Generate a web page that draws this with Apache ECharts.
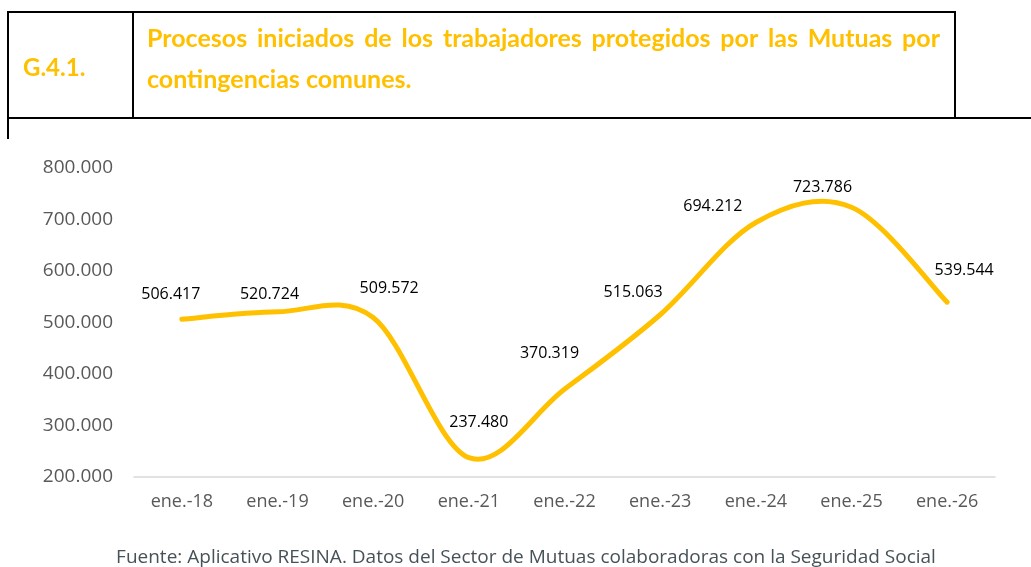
<!DOCTYPE html>
<html>
<head>
<meta charset="utf-8">
<script src="https://cdn.jsdelivr.net/npm/echarts@6/dist/echarts.min.js"></script>
<style>
html,body{margin:0;padding:0;background:#fff;}
#c{width:1031px;height:567px;}
</style>
</head>
<body>
<div id="c"></div>
<script>
const categories = ['ene.-18','ene.-19','ene.-20','ene.-21','ene.-22','ene.-23','ene.-24','ene.-25','ene.-26'];
const values = [506417, 520724, 509572, 237480, 370319, 515063, 694212, 723786, 539544];
const labelOffsets = [[-11,-25],[-8,-17],[16,-29],[10,-35],[-15,-36],[-27,-22],[-43,-16],[-29,-20],[17,-32]];
const chartCode = 'G.4.1.';
const titleLine1 = 'Procesos iniciados de los trabajadores protegidos por las Mutuas por';
const titleLine2 = 'contingencias comunes.';
const sourceText = 'Fuente: Aplicativo RESINA. Datos del Sector de Mutuas colaboradoras con la Seguridad Social';

function fmt(v){ return String(Math.round(v)).replace(/\B(?=(\d{3})+(?!\d))/g, '.'); }

const gold = '#FFC000';
const titleFont = 'bold 25px Lato';
const ctx = document.createElement('canvas').getContext('2d');
ctx.font = titleFont;
const words = titleLine1.split(' ');
const lineStart = 147, lineEnd = 940;
const widths = words.map(w => ctx.measureText(w).width);
const total = widths.reduce((a,b)=>a+b,0);
const gap = (lineEnd - lineStart - total) / (words.length - 1);
const graphics = [];
let x = lineStart;
words.forEach((w,i) => {
  graphics.push({type:'text', x:x, y:38.5, style:{text:w, font:titleFont, fill:gold, textVerticalAlign:'middle'}, z:10});
  x += widths[i] + gap;
});
graphics.push({type:'text', x:147, y:80, style:{text:titleLine2, font:titleFont, fill:gold, textVerticalAlign:'middle'}, z:10});
graphics.push({type:'text', x:23, y:68.5, style:{text:chartCode, font:'bold 24px Lato', fill:gold, textVerticalAlign:'middle'}, z:10});
const lineStyle = {stroke:'#000', lineWidth:2};
graphics.push({type:'line', shape:{x1:8,y1:12,x2:955,y2:12}, style:lineStyle});
graphics.push({type:'line', shape:{x1:8,y1:118,x2:1031,y2:118}, style:lineStyle});
graphics.push({type:'line', shape:{x1:8,y1:11,x2:8,y2:139}, style:lineStyle});
graphics.push({type:'line', shape:{x1:133,y1:12,x2:133,y2:118}, style:lineStyle});
graphics.push({type:'line', shape:{x1:955,y1:11,x2:955,y2:118}, style:lineStyle});
graphics.push({type:'text', x:526, y:557.5, style:{text:sourceText, font:'19px "Open Sans"', fill:'#465257', textAlign:'center', textVerticalAlign:'middle'}});

// Catmull-Rom style smooth curve (as in spreadsheet smoothed lines), through axis coordinates
function renderCurve(params, api){
  if (params.dataIndex !== 0) return null;
  const pts = values.map((v,i) => api.coord([i, v]));
  const n = pts.length;
  const path = [];
  for (let i = 0; i < n - 1; i++) {
    const p0 = pts[Math.max(i-1,0)], p1 = pts[i], p2 = pts[i+1], p3 = pts[Math.min(i+2,n-1)];
    const c1 = [p1[0] + (p2[0]-p0[0])/6, p1[1] + (p2[1]-p0[1])/6];
    const c2 = [p2[0] - (p3[0]-p1[0])/6, p2[1] - (p3[1]-p1[1])/6];
    if (i === 0) path.push('M' + p1[0] + ',' + p1[1]);
    path.push('C' + c1[0] + ',' + c1[1] + ' ' + c2[0] + ',' + c2[1] + ' ' + p2[0] + ',' + p2[1]);
  }
  return {
    type:'path',
    shape:{pathData: path.join(' ')},
    style:{fill:'none', stroke:gold, lineWidth:5, lineCap:'round', lineJoin:'round'}
  };
}

const chart = echarts.init(document.getElementById('c'), null, {renderer:'canvas'});
chart.setOption({
  animation:false,
  grid:{left:134, right:36, top:168, bottom:90, containLabel:false},
  xAxis:{
    type:'category', data:categories, boundaryGap:true,
    axisLine:{lineStyle:{color:'#d9d9d9', width:1.5}},
    axisTick:{show:false},
    axisLabel:{color:'#595959', fontFamily:'Open Sans', fontSize:18, margin:16}
  },
  yAxis:{
    type:'value', min:200000, max:800000, interval:100000,
    axisLine:{show:false}, axisTick:{show:false}, splitLine:{show:false},
    axisLabel:{color:'#595959', fontFamily:'Open Sans', fontSize:19, margin:21, formatter:fmt}
  },
  series:[{
    type:'custom', data:values, renderItem:renderCurve, z:2, silent:true
  },{
    type:'line', data:values.map((v,i)=>({value:v, label:{offset:labelOffsets[i]}})),
    symbol:'circle', symbolSize:1, showSymbol:true,
    itemStyle:{color:'rgba(0,0,0,0)'},
    lineStyle:{width:0, opacity:0},
    z:3,
    label:{show:true, position:'inside', color:'#000', fontFamily:'Open Sans', fontSize:16, formatter:p=>fmt(p.value)}
  }],
  graphic:graphics
});
</script>
</body>
</html>
